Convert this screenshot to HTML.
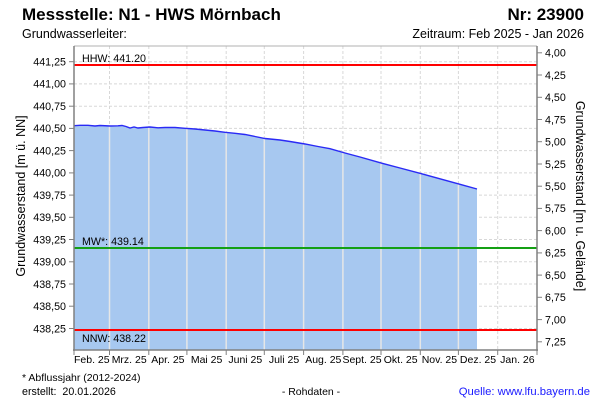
<!DOCTYPE html>
<html><head><meta charset="utf-8">
<style>
html,body{margin:0;padding:0;background:#fff;}
svg{display:block;font-family:"Liberation Sans",Arial,sans-serif;}
</style></head>
<body>
<svg width="600" height="400" viewBox="0 0 600 400" xmlns="http://www.w3.org/2000/svg">
<defs>
<clipPath id="fillclip">
<path d="M74,125.7 L80,125.3 L88,125.3 L95,126 L100,125.5 L110,126 L118,125.8 L122,125.5 L126,126.5 L130,128 L134,127 L138,128 L143,127.5 L150,127 L158,127.8 L165,127.5 L175,127.5 L185,128.3 L195,129 L205,130 L215,131 L225,132.3 L235,133.3 L245,134.5 L255,136.5 L265,138.5 L275,139.5 L280,140 L290,141.5 L305,144 L318,146.5 L330,148.7 L345,153 L360,157 L380,162.7 L400,168 L420,173.3 L440,178.8 L460,184.3 L477,189 L477,350 L74,350 Z"/>
</clipPath>
</defs>
<!-- titles -->
<text x="22" y="20" font-size="17" font-weight="bold" fill="#000">Messstelle: N1 - HWS Mörnbach</text>
<text x="584" y="20" font-size="17" font-weight="bold" fill="#000" text-anchor="end">Nr: 23900</text>
<text x="22" y="38" font-size="12.5" fill="#000">Grundwasserleiter:</text>
<text x="584" y="38" font-size="12.5" fill="#000" text-anchor="end">Zeitraum: Feb 2025 - Jan 2026</text>

<!-- grid -->
<g stroke="#d8d8d8" stroke-width="1" stroke-dasharray="3,2">
<line x1="74" y1="61.7" x2="537" y2="61.7"/>
<line x1="74" y1="83.9" x2="537" y2="83.9"/>
<line x1="74" y1="106.2" x2="537" y2="106.2"/>
<line x1="74" y1="128.4" x2="537" y2="128.4"/>
<line x1="74" y1="150.6" x2="537" y2="150.6"/>
<line x1="74" y1="172.9" x2="537" y2="172.9"/>
<line x1="74" y1="195.1" x2="537" y2="195.1"/>
<line x1="74" y1="217.3" x2="537" y2="217.3"/>
<line x1="74" y1="239.5" x2="537" y2="239.5"/>
<line x1="74" y1="261.8" x2="537" y2="261.8"/>
<line x1="74" y1="284.0" x2="537" y2="284.0"/>
<line x1="74" y1="306.2" x2="537" y2="306.2"/>
<line x1="74" y1="328.5" x2="537" y2="328.5"/>
<line x1="109.5" y1="46" x2="109.5" y2="350"/>
<line x1="148.8" y1="46" x2="148.8" y2="350"/>
<line x1="186.9" y1="46" x2="186.9" y2="350"/>
<line x1="226.2" y1="46" x2="226.2" y2="350"/>
<line x1="264.3" y1="46" x2="264.3" y2="350"/>
<line x1="303.6" y1="46" x2="303.6" y2="350"/>
<line x1="342.9" y1="46" x2="342.9" y2="350"/>
<line x1="381" y1="46" x2="381" y2="350"/>
<line x1="420.3" y1="46" x2="420.3" y2="350"/>
<line x1="458.4" y1="46" x2="458.4" y2="350"/>
<line x1="497.7" y1="46" x2="497.7" y2="350"/>
</g>

<!-- fill -->
<rect x="74" y="100" width="403" height="250" fill="#a7c8f0" clip-path="url(#fillclip)"/>
<g stroke="#e6e6e6" stroke-width="1.5" clip-path="url(#fillclip)">
<line x1="109.5" y1="46" x2="109.5" y2="350"/>
<line x1="148.8" y1="46" x2="148.8" y2="350"/>
<line x1="186.9" y1="46" x2="186.9" y2="350"/>
<line x1="226.2" y1="46" x2="226.2" y2="350"/>
<line x1="264.3" y1="46" x2="264.3" y2="350"/>
<line x1="303.6" y1="46" x2="303.6" y2="350"/>
<line x1="342.9" y1="46" x2="342.9" y2="350"/>
<line x1="381" y1="46" x2="381" y2="350"/>
<line x1="420.3" y1="46" x2="420.3" y2="350"/>
<line x1="458.4" y1="46" x2="458.4" y2="350"/>
</g>
<path d="M74,125.7 L80,125.3 L88,125.3 L95,126 L100,125.5 L110,126 L118,125.8 L122,125.5 L126,126.5 L130,128 L134,127 L138,128 L143,127.5 L150,127 L158,127.8 L165,127.5 L175,127.5 L185,128.3 L195,129 L205,130 L215,131 L225,132.3 L235,133.3 L245,134.5 L255,136.5 L265,138.5 L275,139.5 L280,140 L290,141.5 L305,144 L318,146.5 L330,148.7 L345,153 L360,157 L380,162.7 L400,168 L420,173.3 L440,178.8 L460,184.3 L477,189" fill="none" stroke="#2a2af5" stroke-width="1.4"/>

<!-- reference lines -->
<line x1="74" y1="65" x2="537" y2="65" stroke="#ff0000" stroke-width="2"/>
<line x1="74" y1="248" x2="537" y2="248" stroke="#14a014" stroke-width="2"/>
<line x1="74" y1="330" x2="537" y2="330" stroke="#ff0000" stroke-width="2"/>
<g font-size="10.7" fill="#000">
<text x="82" y="62">HHW: 441.20</text>
<text x="82" y="245">MW*: 439.14</text>
<text x="82" y="342">NNW: 438.22</text>
</g>

<!-- frame / axes -->
<line x1="74" y1="46" x2="537" y2="46" stroke="#b0b0b0" stroke-width="1"/>
<line x1="74" y1="46" x2="74" y2="351" stroke="#808080" stroke-width="1.5"/>
<line x1="537" y1="46" x2="537" y2="351" stroke="#808080" stroke-width="1.5"/>
<line x1="73" y1="350" x2="538" y2="350" stroke="#808080" stroke-width="1.5"/>

<!-- left ticks -->
<g stroke="#808080" stroke-width="1">
<line x1="69" y1="61.7" x2="74" y2="61.7"/>
<line x1="69" y1="83.9" x2="74" y2="83.9"/>
<line x1="69" y1="106.2" x2="74" y2="106.2"/>
<line x1="69" y1="128.4" x2="74" y2="128.4"/>
<line x1="69" y1="150.6" x2="74" y2="150.6"/>
<line x1="69" y1="172.9" x2="74" y2="172.9"/>
<line x1="69" y1="195.1" x2="74" y2="195.1"/>
<line x1="69" y1="217.3" x2="74" y2="217.3"/>
<line x1="69" y1="239.5" x2="74" y2="239.5"/>
<line x1="69" y1="261.8" x2="74" y2="261.8"/>
<line x1="69" y1="284.0" x2="74" y2="284.0"/>
<line x1="69" y1="306.2" x2="74" y2="306.2"/>
<line x1="69" y1="328.5" x2="74" y2="328.5"/>
<!-- right ticks -->
<line x1="537" y1="52.8" x2="542" y2="52.8"/>
<line x1="537" y1="75.0" x2="542" y2="75.0"/>
<line x1="537" y1="97.3" x2="542" y2="97.3"/>
<line x1="537" y1="119.5" x2="542" y2="119.5"/>
<line x1="537" y1="141.7" x2="542" y2="141.7"/>
<line x1="537" y1="164.0" x2="542" y2="164.0"/>
<line x1="537" y1="186.2" x2="542" y2="186.2"/>
<line x1="537" y1="208.4" x2="542" y2="208.4"/>
<line x1="537" y1="230.6" x2="542" y2="230.6"/>
<line x1="537" y1="252.9" x2="542" y2="252.9"/>
<line x1="537" y1="275.1" x2="542" y2="275.1"/>
<line x1="537" y1="297.3" x2="542" y2="297.3"/>
<line x1="537" y1="319.6" x2="542" y2="319.6"/>
<line x1="537" y1="341.8" x2="542" y2="341.8"/>
<!-- bottom ticks -->
<line x1="74" y1="350" x2="74" y2="355"/>
<line x1="109.5" y1="350" x2="109.5" y2="355"/>
<line x1="148.8" y1="350" x2="148.8" y2="355"/>
<line x1="186.9" y1="350" x2="186.9" y2="355"/>
<line x1="226.2" y1="350" x2="226.2" y2="355"/>
<line x1="264.3" y1="350" x2="264.3" y2="355"/>
<line x1="303.6" y1="350" x2="303.6" y2="355"/>
<line x1="342.9" y1="350" x2="342.9" y2="355"/>
<line x1="381" y1="350" x2="381" y2="355"/>
<line x1="420.3" y1="350" x2="420.3" y2="355"/>
<line x1="458.4" y1="350" x2="458.4" y2="355"/>
<line x1="497.7" y1="350" x2="497.7" y2="355"/>
<line x1="537" y1="350" x2="537" y2="355"/>
</g>

<!-- left tick labels -->
<g font-size="10.7" fill="#000" text-anchor="end">
<text x="66" y="65.5">441,25</text>
<text x="66" y="87.7">441,00</text>
<text x="66" y="110">440,75</text>
<text x="66" y="132.2">440,50</text>
<text x="66" y="154.4">440,25</text>
<text x="66" y="176.7">440,00</text>
<text x="66" y="198.9">439,75</text>
<text x="66" y="221.1">439,50</text>
<text x="66" y="243.3">439,25</text>
<text x="66" y="265.6">439,00</text>
<text x="66" y="287.8">438,75</text>
<text x="66" y="310">438,50</text>
<text x="66" y="332.3">438,25</text>
</g>
<!-- right tick labels -->
<g font-size="10.7" fill="#000">
<text x="545" y="56.6">4,00</text>
<text x="545" y="78.8">4,25</text>
<text x="545" y="101.1">4,50</text>
<text x="545" y="123.3">4,75</text>
<text x="545" y="145.5">5,00</text>
<text x="545" y="167.8">5,25</text>
<text x="545" y="190">5,50</text>
<text x="545" y="212.2">5,75</text>
<text x="545" y="234.4">6,00</text>
<text x="545" y="256.7">6,25</text>
<text x="545" y="278.9">6,50</text>
<text x="545" y="301.1">6,75</text>
<text x="545" y="323.4">7,00</text>
<text x="545" y="345.6">7,25</text>
</g>
<!-- bottom labels -->
<g font-size="10.5" fill="#000" text-anchor="middle">
<text x="91.8" y="363">Feb. 25</text>
<text x="129.2" y="363">Mrz. 25</text>
<text x="167.9" y="363">Apr. 25</text>
<text x="206.6" y="363">Mai 25</text>
<text x="245.3" y="363">Juni 25</text>
<text x="284" y="363">Juli 25</text>
<text x="323.3" y="363">Aug. 25</text>
<text x="362" y="363">Sept. 25</text>
<text x="400.7" y="363">Okt. 25</text>
<text x="439.4" y="363">Nov. 25</text>
<text x="478" y="363">Dez. 25</text>
<text x="517.4" y="363">Jan. 26</text>
</g>

<!-- axis titles -->
<text transform="translate(25,196) rotate(-90)" font-size="12.5" fill="#000" text-anchor="middle">Grundwasserstand [m ü. NN]</text>
<text transform="translate(576,196) rotate(90)" font-size="12.5" fill="#000" text-anchor="middle">Grundwasserstand [m u. Gelände]</text>

<!-- footer -->
<text x="22" y="381" font-size="10.5" fill="#000">* Abflussjahr (2012-2024)</text>
<text x="22" y="395" font-size="10.7" fill="#000" xml:space="preserve">erstellt:  20.01.2026</text>
<text x="311" y="395" font-size="10.5" fill="#000" text-anchor="middle">- Rohdaten -</text>
<text x="590" y="395" font-size="11.3" fill="#1a1aff" text-anchor="end">Quelle: www.lfu.bayern.de</text>
</svg>
</body></html>
